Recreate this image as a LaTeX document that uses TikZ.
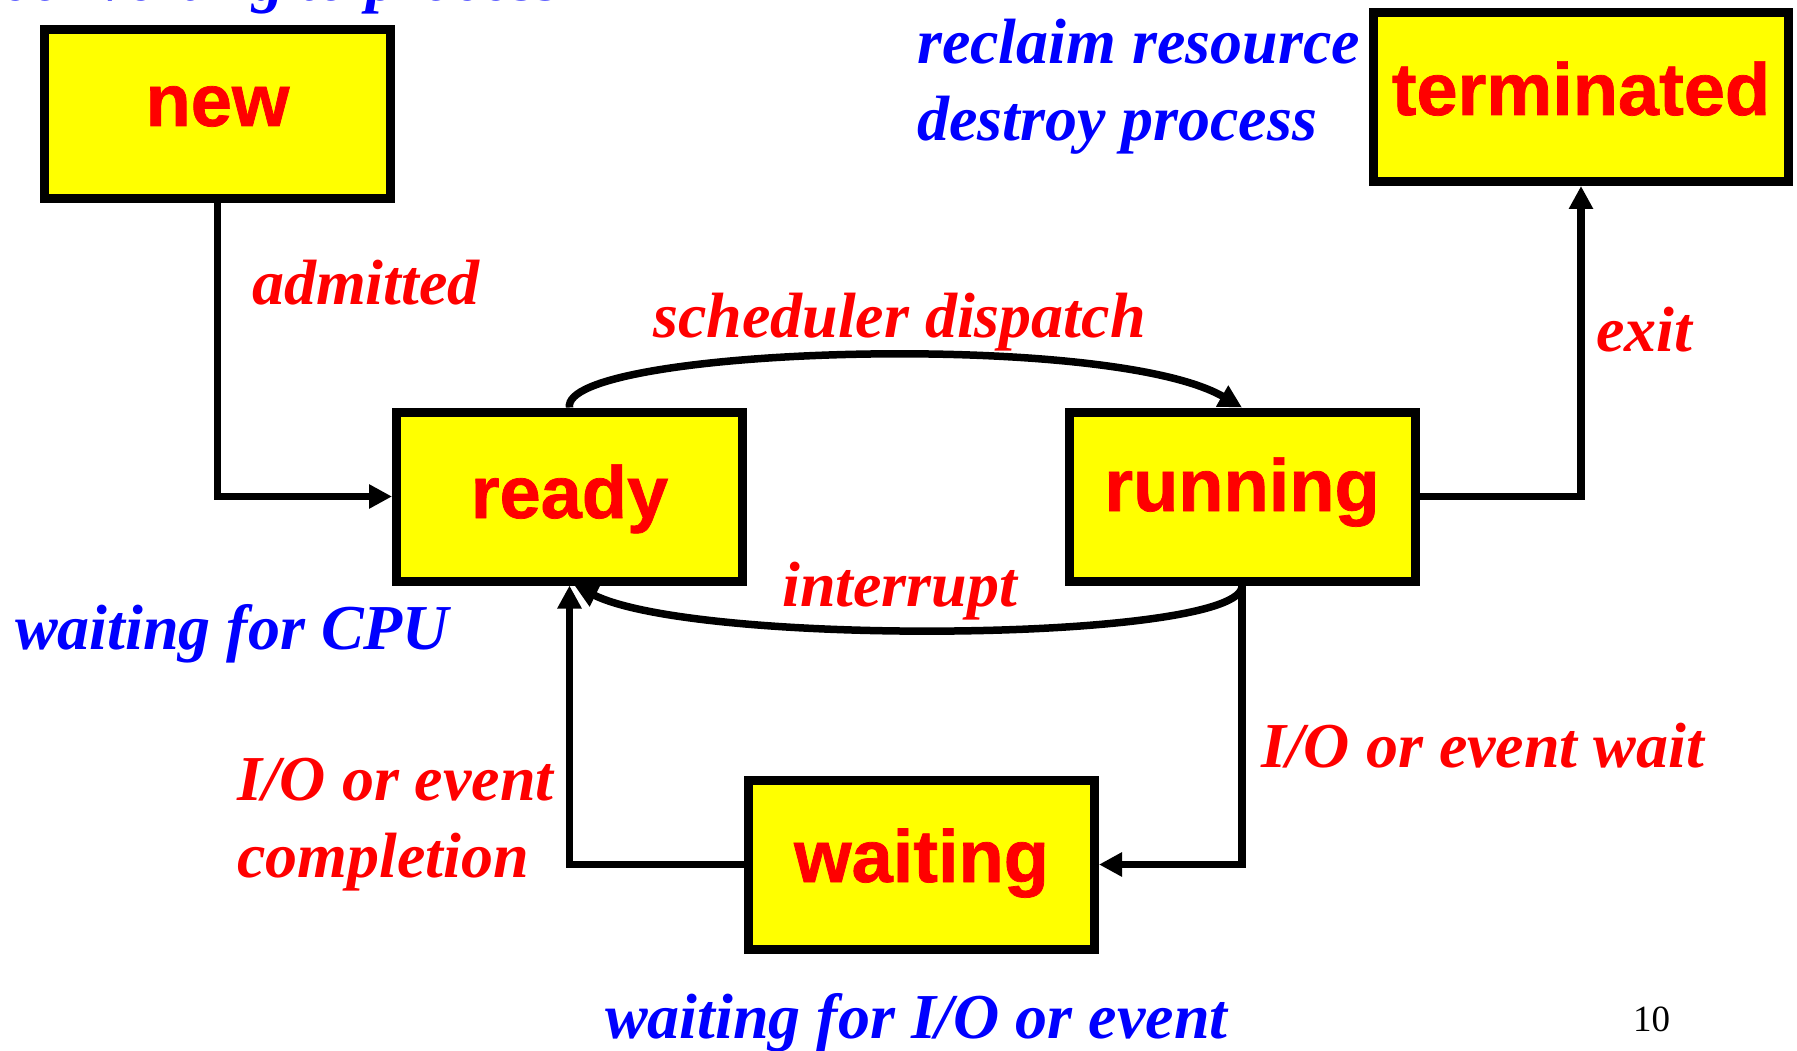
\documentclass[tikz,border=0pt]{standalone}
\usepackage{fontspec}
\setmainfont{Liberation Serif}
\setsansfont{Liberation Sans}
\newfontfamily\boxfont{Liberation Sans}[BoldFeatures={FakeBold=1}]
\usetikzlibrary{arrows.meta,calc}
\definecolor{boxyellow}{RGB}{255,255,0}
\definecolor{labred}{RGB}{255,0,0}
\definecolor{labblue}{RGB}{0,0,255}
\begin{document}
\begin{tikzpicture}[x=1pt,y=-1pt,
  statebox/.style={draw=black, line width=9pt, fill=boxyellow, minimum width=346pt,
    minimum height=169pt, inner sep=0pt, text height=45pt, text depth=11pt,
    font=\fontsize{74}{80}\selectfont\boxfont\bfseries, text=labred},
  conn/.style={line width=7.5pt, -{Triangle[length=23pt,width=23pt]}},
  lab/.style={inner sep=0pt, anchor=base west, font=\fontsize{64}{70}\selectfont\bfseries\itshape},
  redlab/.style={lab, text=labred},
  bluelab/.style={lab, text=labblue}]
\useasboundingbox (0,0) rectangle (1797,1051);
\clip (0,0) rectangle (1797,1051);

% states
\node[statebox, text depth=21pt] (new) at (217.5,114) {new};
\node[statebox, minimum width=415pt, text depth=9pt] (term) at (1581,97) {terminated};
\node[statebox, text depth=2pt] (ready) at (569.5,496.5) {ready};
\node[statebox, text depth=16pt] (run) at (1242,496.5) {running};
\node[statebox, text depth=10pt] (wait) at (921.5,864.5) {waiting};

% connectors
\draw[conn] (new.south) |- (ready.west);
\draw[conn] (ready.north) .. controls +(-9,-60) and +(-135,-78) .. (run.north);
\draw[conn] (run.south) .. controls +(3,56) and +(126,62) .. ([xshift=5pt]ready.south);
\draw[conn] (run.east) -| (term.south);
\draw[conn] (run.south) |- (wait.east);
\draw[conn] (wait.west) -| (ready.south);

% red labels
\node[redlab] (ladm) at (252,304) {admitted};
\node[redlab] (lsch) at (653,337) {scheduler dispatch};
\node[redlab] (lexit) at (1596,351) {exit};
\node[redlab] (lint) at (782,606) {interrupt};
\node[redlab] (liow) at (1261,767) {I/O or event wait};
\node[redlab] (lioc1) at (237,800) {I/O or event};
\node[redlab] (lioc2) at (237,877) {completion};

% blue labels
\node[bluelab] (lrec) at (917,64) {reclaim resource};
\node[bluelab] (ldes) at (917,141) {destroy process};
\node[bluelab] (lcpu) at (15,649) {waiting for CPU};
\node[bluelab] (lwio) at (605,1038) {waiting for I/O or event};
\node[bluelab, anchor=base east] (lconv) at (562,1) {converting to process};

% page number
\node[inner sep=0pt, anchor=base west, font=\fontsize{37}{40}\selectfont] (pg) at (1633,1031) {10};
\end{tikzpicture}
\end{document}
